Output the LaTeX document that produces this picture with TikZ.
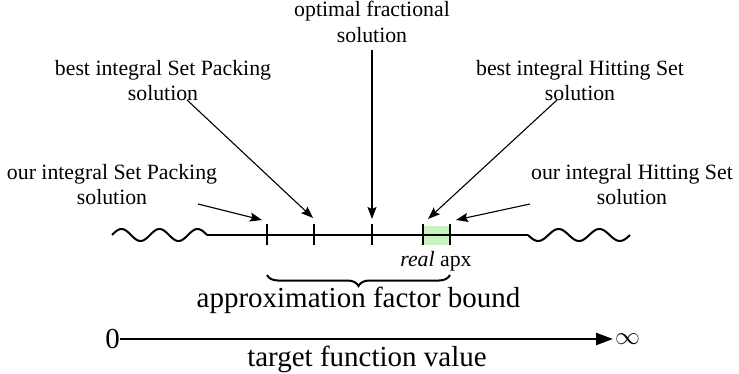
\documentclass[tikz,border=0pt]{standalone}
\usepackage{fontspec}
\setmainfont{Liberation Serif}
\usetikzlibrary{arrows.meta,decorations.pathreplacing}
\definecolor{apxgreen}{RGB}{200,242,190}
\begin{document}
\begin{tikzpicture}[x=1pt,y=-1pt,
  lbl/.style={align=center,inner sep=0pt,font=\fontsize{21.8}{25.5}\selectfont,anchor=north},
  big/.style={inner sep=0pt,font=\fontsize{29}{33}\selectfont},
  ptr/.style={line width=1.1pt,-{Stealth[length=12pt,width=9pt,inset=2pt]}},
  mainline/.style={line width=2pt},
  tickmark/.style={line width=2.4pt},
  axisarrow/.style={line width=2.4pt,-{Triangle[length=17pt,width=12pt]}}]
\useasboundingbox (0,0) rectangle (739,374);

% texts
\node[lbl] (opt) at (372,1) {optimal fractional\\solution};
\node[lbl] (bestSP) at (163,60) {best integral Set Packing\\solution};
\node[lbl] (bestHS) at (580,60) {best integral Hitting Set\\solution};
\node[lbl] (ourSP) at (112,164) {our integral Set Packing\\solution};
\node[lbl] (ourHS) at (632,164) {our integral Hitting Set\\solution};

% green box
\fill[apxgreen] (423,226) rectangle (450,245);

% main line with wavy ends
\draw[mainline] plot[domain=112:207,samples=90] (\x,{235-6*sin((\x-112)/38*360)});
\draw[mainline] (207,235) -- (528,235);
\draw[mainline] plot[domain=528:630,samples=90] (\x,{235+6*sin((\x-528)/40.8*360)});

% ticks
\coordinate (t1) at (267,235);
\coordinate (t2) at (314,235);
\coordinate (t3) at (372,235);
\coordinate (t4) at (423,235);
\coordinate (t5) at (450,235);
\foreach \t in {t1,t2,t3,t4,t5} \draw[tickmark] ([yshift=-10.5pt]\t) -- ([yshift=10.5pt]\t);

% arrow ends
\coordinate (ourSPs) at (198,204);
\coordinate (ourSPe) at (262,220);
\coordinate (bestSPs) at (187,100);
\coordinate (bestSPe) at (313,218);
\coordinate (opts) at (372,50);
\coordinate (opte) at (372,219);
\coordinate (bestHSs) at (557,100);
\coordinate (bestHSe) at (428,219);
\coordinate (ourHSs) at (530,204);
\coordinate (ourHSe) at (456,220);
\draw[ptr] (ourSPs) -- (ourSPe);
\draw[ptr] (bestSPs) -- (bestSPe);
\draw[ptr] (opts) -- (opte);
\draw[ptr] (bestHSs) -- (bestHSe);
\draw[ptr] (ourHSs) -- (ourHSe);

% real apx
\node[lbl,anchor=base] (realapx) at (436,266) {\textit{real} apx};

% brace
\coordinate (bl) at (267,275);
\coordinate (br) at (450,275);
\draw[line width=2pt,decorate,decoration={brace,mirror,amplitude=11pt}] (bl) -- (br);
\node[big,anchor=base] (bound) at (358.5,307) {approximation factor bound};

% axis
\coordinate (ax0) at (120,339);
\coordinate (ax1) at (613,339);
\draw[axisarrow] (ax0) -- (ax1);
\node[big,anchor=east] (zero) at (ax0) {0};
\node[big,anchor=west,inner sep=2pt] (inf) at (ax1) {$\infty$};
\node[big,anchor=base] (target) at (367,366) {target function value};
\end{tikzpicture}
\end{document}
